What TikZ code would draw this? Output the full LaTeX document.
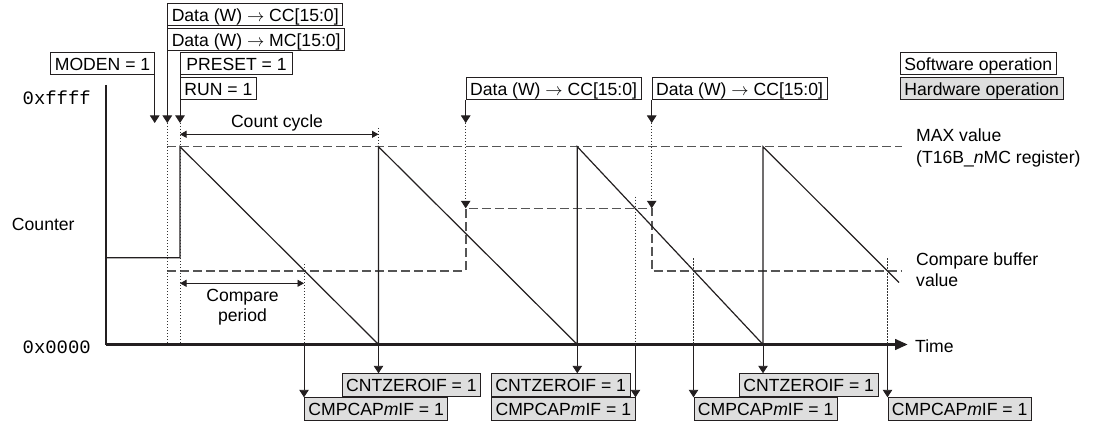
\documentclass[tikz,border=0pt]{standalone}
\usepackage{fontspec}
\setmainfont{Liberation Sans}
\setmonofont{Liberation Mono}
\definecolor{tmink}{RGB}{35,31,32}
\definecolor{tmhw}{RGB}{222,222,222}
\definecolor{tmdash}{RGB}{85,85,85}
\definecolor{tmdot}{RGB}{50,50,50}
\usetikzlibrary{arrows.meta,positioning}
\newcommand{\lblfont}{\fontsize{17.6}{21.6}\selectfont}
\newcommand{\hexfont}{\fontsize{18.9}{22}\selectfont\ttfamily}

\tikzset{
  swop/.style={draw=tmink, line width=0.9pt, fill=white, font=\lblfont,
    inner xsep=4pt, inner ysep=0pt, minimum height=22.2pt,
    text height=15pt, text depth=1.1pt},
  hwop/.style={swop, fill=tmhw},
  evline/.style={tmink, line width=0.9pt, -{Triangle[width=9.5pt,length=7.5pt]}},
  guide/.style={tmdot, line width=0.8pt, dash pattern=on 1.4pt off 1.6pt},
  level/.style={tmdash, line width=1.6pt, dash pattern=on 9pt off 4pt},
  ramp/.style={tmink, line width=1.2pt},
  span/.style={tmink, line width=0.9pt,
    {Triangle[width=7pt,length=6.5pt]}-{Triangle[width=7pt,length=6.5pt]}},
  free/.style={font=\lblfont, inner sep=0pt},
}

\begin{document}
\begin{tikzpicture}[x=1pt, y=-1pt]
\useasboundingbox (0,0) rectangle (1110,422);

% --- Axes ---
\coordinate (orig) at (105.7,344.5);
\coordinate (ytop) at (105.7,85);
\coordinate (xend) at (907.7,344.5);
\draw[tmink, line width=2.4pt] (ytop) -- (orig);
\draw[tmink, line width=2.4pt, -{Triangle[width=10.5pt,length=12.5pt]}] (orig) -- (xend);
\node[free, anchor=base west] (timelbl) at (915,352.3) {Time};
\node[free, anchor=base] (cntlbl) at (43.3,230) {Counter};
\node[font=\hexfont, inner sep=0pt, anchor=base] (hexmax) at (56.7,104.3) {0xffff};
\node[font=\hexfont, inner sep=0pt, anchor=base] (hexmin) at (56.7,353.3) {0x0000};

% --- Counter waveform ---
\coordinate (init) at (105.7,257.7);
\coordinate (pk0) at (180,146.7);
\coordinate (zr1) at (378.5,344.5);
\coordinate (pk1) at (378.5,146.7);
\coordinate (zr2) at (577.3,344.5);
\coordinate (pk2) at (577.3,146.7);
\coordinate (zr3) at (763,344.5);
\coordinate (pk3) at (763,146.7);
\coordinate (rend) at (899,282.5);

% MAX and compare buffer levels
\draw[level] (167.3,146.7) -- (901.7,146.7);
\draw[level] (167.3,270.7) -- (465.7,270.7) -- (465.7,208.3) -- (651.7,208.3)
  -- (651.7,270.7) -- (901.7,270.7);

\draw[ramp] (init) -- (pk0 |- init) -- (pk0) -- (zr1) -- (pk1) -- (zr2) -- (pk2)
  -- (zr3) -- (pk3) -- (rend);

\node[free, anchor=west, align=left] (maxlbl) at (916,148)
  {MAX value\\(T16B\_\textit{n}MC register)};
\node[free, anchor=west, align=left] (cmplbl) at (916,269.7)
  {Compare buffer\\value};

% --- Software operations (top) ---
\node[swop, anchor=north west] (wrmc) at (167.3,28.3) {Data (W) $\rightarrow$ MC[15:0]};
\node[swop, anchor=north west] (wrcc) at (167.3,2.7) {Data (W) $\rightarrow$ CC[15:0]};
\node[swop, anchor=north east] (moden) at (154.7,52.3) {MODEN = 1};
\node[swop, anchor=north west] (run) at (180,77.3) {RUN = 1};
\node[swop, anchor=north west, inner xsep=6pt] (preset) at (180,52.3) {PRESET = 1};
\node[swop, anchor=north west] (wrcc2) at (465.7,77.3) {Data (W) $\rightarrow$ CC[15:0]};
\node[swop, anchor=north west] (wrcc3) at (651.7,77.3) {Data (W) $\rightarrow$ CC[15:0]};

\node[swop, anchor=north west] (legsw) at (900,52.3) {Software operation};
\node[hwop, anchor=north west] (leghw) at (900,77.3) {Hardware operation};

\coordinate (tmoden) at (154.7,123);
\coordinate (twr) at (167.3,123);
\coordinate (trun) at (180,123);
\draw[evline] (moden.south east) -- (tmoden);
\draw[evline] (wrcc.south west) -- (wrmc.north west) (wrmc.south west) -- (twr);
\draw[evline] (preset.south west) -- (run.north west) (run.south west) -- (trun);
\draw[guide] (twr) -- (twr |- orig);
\draw[guide] (trun) -- (trun |- orig);

% buffer rewrites
\coordinate (tcc2) at (465.7,123);
\coordinate (tcc3) at (651.7,123);
\coordinate (lv2) at (465.7,208.3);
\coordinate (lv3) at (651.7,208.3);
\draw[evline] (wrcc2.south west) -- (tcc2);
\draw[evline] (wrcc3.south west) -- (tcc3);
\draw[guide, -{Triangle[width=9.5pt,length=7.5pt,color=tmink]}] (tcc2) -- (lv2);
\draw[guide, -{Triangle[width=9.5pt,length=7.5pt,color=tmink]}] (tcc3) -- (lv3);

% --- Count cycle / compare period ---
\coordinate (cyctop) at (378.5,128);
\draw[guide] (cyctop) -- (pk1);
\coordinate (cyc0) at (180,134.3);
\coordinate (cyc1) at (378.5,134.3);
\draw[span] (cyc0) -- (cyc1);
\node[free, anchor=base] (cyclbl) at (277,127.5) {Count cycle};

\coordinate (cx1) at (304,264);
\coordinate (cx2) at (635.5,196.7);
\coordinate (cx3) at (693.5,258.3);
\coordinate (cx4) at (887.5,258.3);
\coordinate (per0) at (180,283.3);
\coordinate (per1) at (cx1 |- per0);
\draw[span] (per0) -- (per1);
\node[free, align=center, font=\fontsize{17.6}{20}\selectfont] (perlbl) at (242.5,307.4)
  {Compare\\period};

% --- Hardware operations (bottom) ---
\node[hwop, anchor=north west] (zf1) at (341.7,373.3) {CNTZEROIF = 1};
\node[hwop, anchor=north west] (zf2) at (491,373.3) {CNTZEROIF = 1};
\node[hwop, anchor=north west] (zf3) at (739,373.3) {CNTZEROIF = 1};
\draw[evline] (zr1) -- (zr1 |- zf1.north);
\draw[evline] (zr2) -- (zr2 |- zf2.north);
\draw[evline] (zr3) -- (zr3 |- zf3.north);

\node[hwop, anchor=north west] (cp1) at (304,397.3) {CMPCAP\textit{m}IF = 1};
\node[hwop, anchor=north east] (cp2) at (635.5,397.3) {CMPCAP\textit{m}IF = 1};
\node[hwop, anchor=north west] (cp3) at (693.5,397.3) {CMPCAP\textit{m}IF = 1};
\node[hwop, anchor=north west] (cp4) at (887.5,397.3) {CMPCAP\textit{m}IF = 1};
\draw[guide] (cx1) -- (cx1 |- orig);
\draw[guide] (cx2) -- (cx2 |- orig);
\draw[guide] (cx3) -- (cx3 |- orig);
\draw[guide] (cx4) -- (cx4 |- orig);
\draw[evline] (cx1 |- orig) -- (cp1.north west);
\draw[evline] (cx2 |- orig) -- (cp2.north east);
\draw[evline] (cx3 |- orig) -- (cp3.north west);
\draw[evline] (cx4 |- orig) -- (cp4.north west);

\end{tikzpicture}
\end{document}
